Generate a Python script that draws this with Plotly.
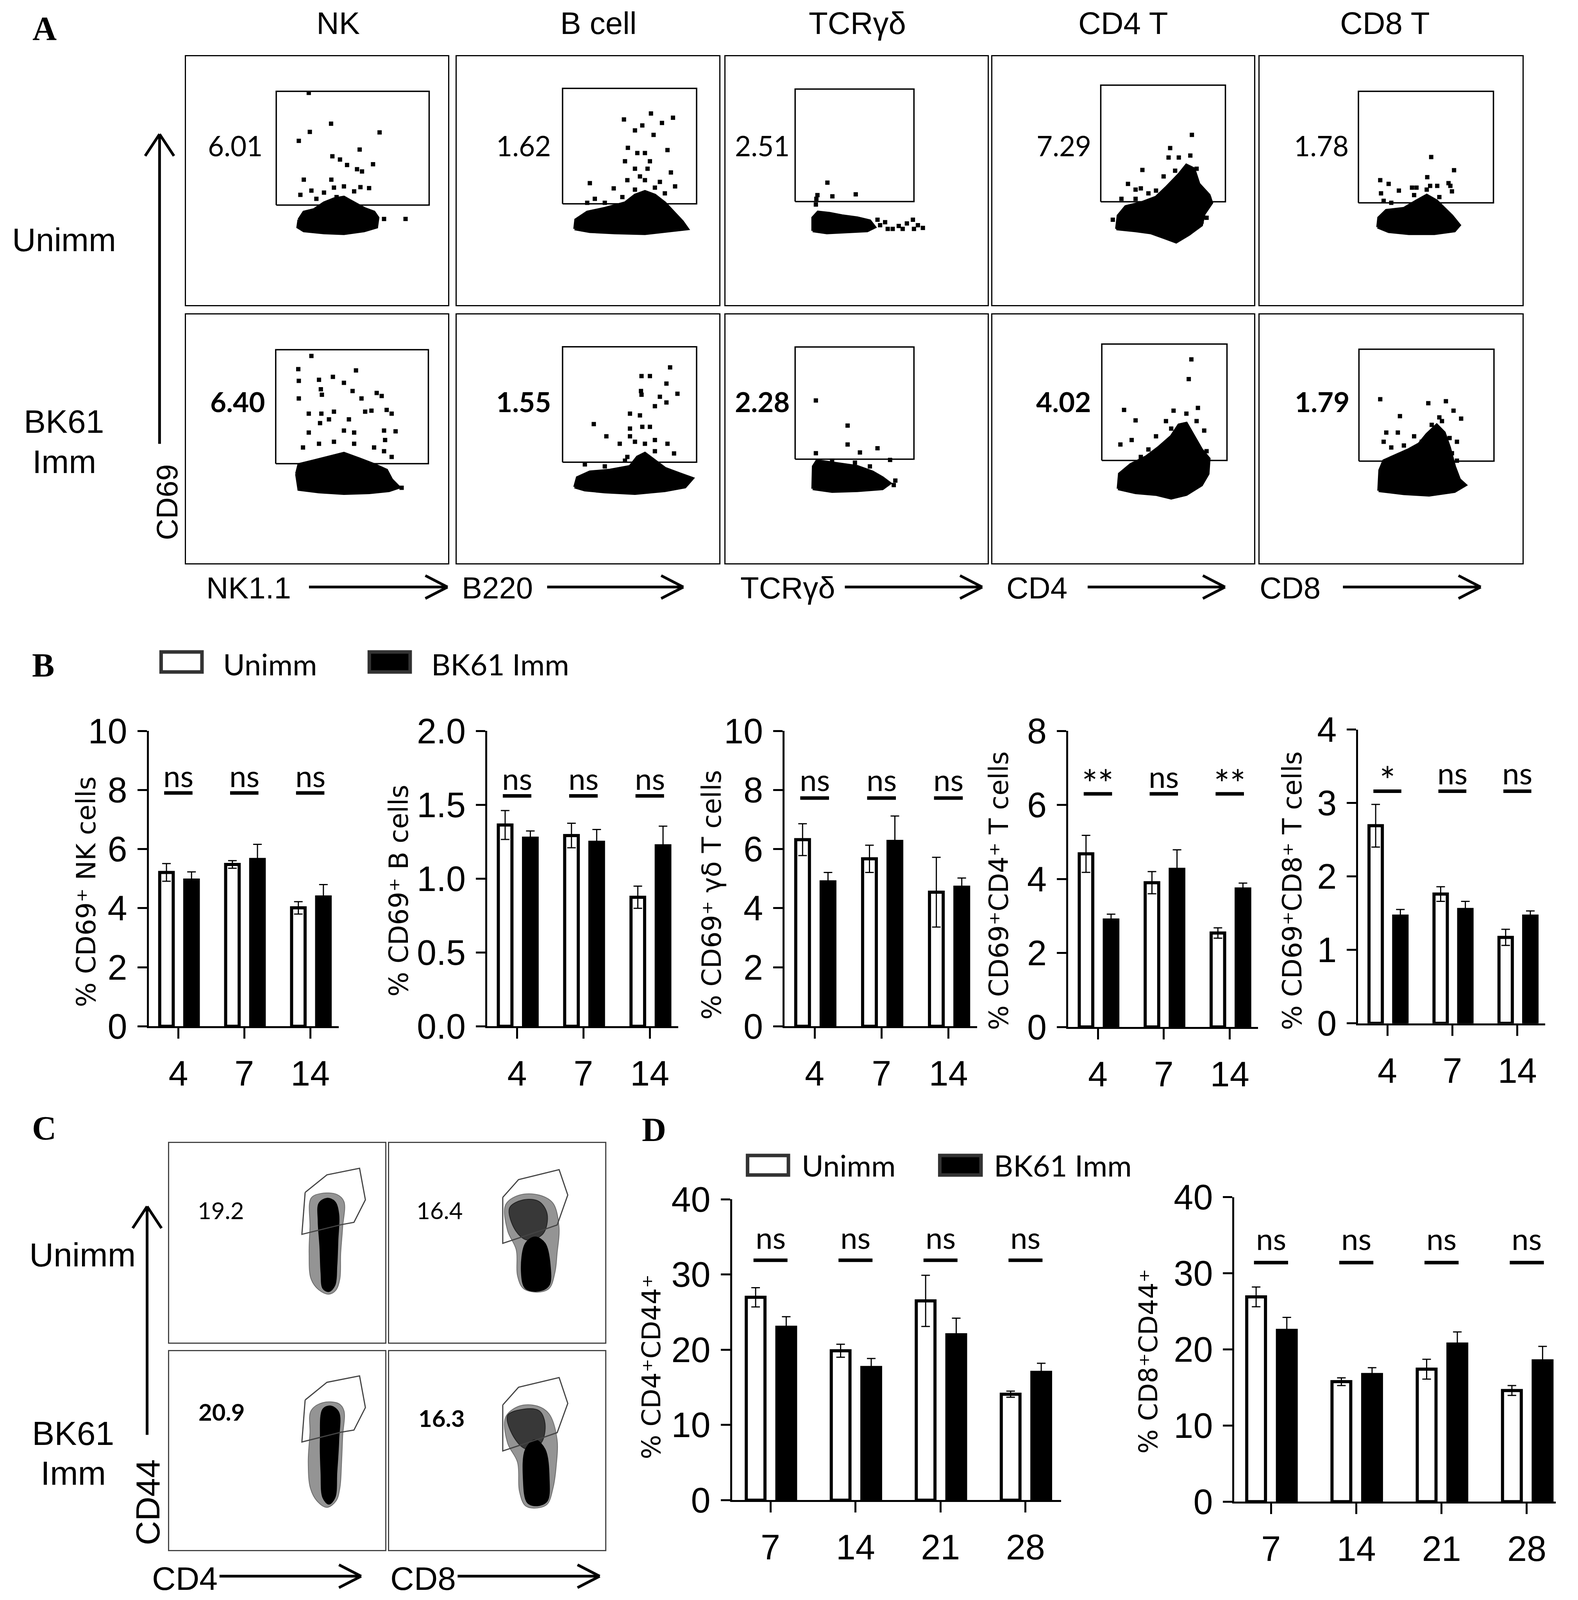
import plotly.graph_objects as go

W, H = 4039, 4318
def fx(x): return x / W
def fy(y): return 1 - y / H

# ================= DATA =================
# ---- Panel A: flow plots (arbitrary fluorescence units 0-1000) ----
a_col_titles = ["NK", "B cell", "TCRγδ", "CD4 T", "CD8 T"]
a_x_markers = ["NK1.1", "B220", "TCRγδ", "CD4", "CD8"]
a_top_pct = ["6.01", "1.62", "2.51", "7.29", "1.78"]
a_bot_pct = ["6.40", "1.55", "2.28", "4.02", "1.79"]
a_top_pct_x = [188, 254, 140, 273, 235]
a_bot_pct_x = [197, 254, 140, 271, 237]

nk_top_gate_x = [344, 927]; nk_top_gate_y = [402, 859]
nk_top_blob_x = [430, 449, 488, 526, 564, 602, 641, 679, 717, 732, 727, 679, 602, 526, 449, 426]
nk_top_blob_y = [343, 374, 384, 411, 427, 434, 411, 389, 374, 351, 313, 298, 287, 290, 298, 313]
nk_top_dots_x = [468, 553, 472, 430, 738, 662, 558, 587, 614, 652, 671, 713, 449, 554, 665, 698, 436, 478, 526, 564, 602, 641, 574, 497, 755, 837, 707]
nk_top_dots_y = [853, 729, 696, 660, 694, 625, 598, 585, 563, 546, 537, 566, 504, 504, 474, 470, 443, 460, 452, 472, 477, 457, 434, 427, 346, 346, 366]

nk_bot_gate_x = [342, 924]; nk_bot_gate_y = [401, 859]
nk_bot_blob_x = [421, 430, 488, 545, 602, 660, 717, 765, 784, 813, 774, 698, 602, 507, 430]
nk_bot_blob_y = [360, 398, 413, 428, 443, 421, 398, 375, 337, 306, 292, 284, 281, 287, 297]
nk_bot_dots_x = [478, 428, 648, 430, 507, 560, 602, 514, 518, 727, 746, 635, 669, 430, 468, 516, 564, 545, 621, 683, 707, 765, 784, 511, 602, 641, 755, 799, 468, 507, 564, 641, 717, 759, 446, 755, 784, 736, 822]
nk_bot_dots_y = [834, 781, 776, 734, 738, 750, 726, 700, 678, 685, 673, 693, 663, 663, 602, 602, 610, 579, 579, 610, 614, 617, 602, 564, 534, 526, 534, 531, 526, 481, 489, 481, 466, 496, 466, 451, 428, 368, 304]

b_top_gate_x = [403, 914]; b_top_gate_y = [407, 871]
b_top_blob_x = [449, 453, 497, 564, 641, 679, 717, 755, 793, 832, 860, 880, 813, 717, 602, 507]
b_top_blob_y = [306, 343, 374, 389, 411, 442, 457, 442, 411, 366, 336, 306, 298, 287, 290, 295]
b_top_dots_x = [740, 637, 782, 824, 707, 679, 750, 652, 688, 717, 803, 641, 736, 727, 679, 816, 698, 650, 717, 774, 832, 598, 507, 755, 679, 631, 526, 793, 497, 564]
b_top_dots_y = [770, 746, 732, 753, 722, 702, 684, 632, 611, 611, 623, 578, 578, 548, 548, 533, 517, 502, 502, 495, 477, 469, 490, 472, 464, 434, 427, 449, 411, 411]

b_bot_gate_x = [403, 914]; b_bot_gate_y = [407, 871]
b_bot_blob_x = [449, 459, 507, 583, 660, 688, 717, 755, 793, 851, 899, 870, 793, 679, 564, 488]
b_bot_blob_y = [307, 345, 368, 375, 390, 428, 443, 413, 383, 360, 342, 307, 292, 281, 287, 295]
b_bot_dots_x = [813, 704, 736, 799, 841, 702, 704, 774, 799, 755, 660, 698, 522, 660, 707, 736, 660, 570, 755, 679, 717, 803, 621, 755, 828, 650, 488, 564, 641]
b_bot_dots_y = [788, 753, 753, 723, 682, 693, 678, 670, 647, 632, 602, 595, 560, 542, 549, 549, 511, 511, 496, 489, 481, 481, 481, 451, 442, 428, 398, 390, 413]

gd_top_gate_x = [266, 719]; gd_top_gate_y = [416, 868]
gd_top_blob_x = [333, 333, 353, 397, 445, 503, 551, 570, 541, 464, 387]
gd_top_blob_y = [298, 351, 374, 369, 359, 351, 339, 313, 298, 295, 290]
gd_top_dots_x = [389, 408, 497, 351, 347, 345, 590, 609, 638, 661, 692, 715, 734, 753, 719, 676, 619, 580]
gd_top_dots_y = [492, 437, 445, 442, 427, 404, 321, 333, 306, 318, 328, 343, 321, 310, 306, 306, 306, 343]

gd_bot_gate_x = [266, 719]; gd_bot_gate_y = [419, 870]
gd_bot_blob_x = [333, 335, 349, 397, 445, 503, 561, 599, 628, 599, 503, 407]
gd_bot_blob_y = [300, 390, 413, 405, 398, 390, 368, 345, 322, 300, 292, 289]
gd_bot_dots_x = [345, 466, 466, 513, 580, 628, 345, 407, 494, 551, 648, 642, 426, 503]
gd_bot_dots_y = [655, 554, 478, 446, 463, 416, 443, 413, 405, 390, 333, 315, 375, 360]

cd4_top_gate_x = [414, 890]; cd4_top_gate_y = [415, 884]
cd4_top_blob_x = [474, 480, 509, 567, 625, 663, 712, 741, 770, 789, 828, 838, 809, 799, 750, 702, 663, 605, 547]
cd4_top_blob_y = [306, 359, 396, 411, 434, 472, 525, 563, 548, 487, 442, 411, 366, 321, 283, 253, 268, 290, 298]
cd4_top_dots_x = [762, 679, 673, 712, 756, 573, 654, 698, 741, 780, 518, 547, 567, 625, 493, 547, 596, 528, 828, 818, 799, 460, 480]
cd4_top_dots_y = [684, 631, 593, 593, 601, 543, 517, 540, 510, 548, 487, 464, 469, 460, 427, 427, 449, 396, 427, 351, 336, 343, 313]

cd4_bot_gate_x = [418, 896]; cd4_bot_gate_y = [414, 882]
cd4_bot_blob_x = [480, 485, 528, 586, 634, 683, 712, 741, 770, 799, 828, 824, 799, 741, 683, 625, 547]
cd4_bot_blob_y = [300, 360, 398, 428, 466, 511, 557, 564, 511, 458, 421, 360, 315, 277, 262, 277, 284]
cd4_bot_dots_x = [760, 750, 503, 547, 532, 489, 692, 741, 785, 663, 780, 809, 683, 625, 567, 596, 818, 780]
cd4_bot_dots_y = [820, 741, 617, 575, 496, 478, 614, 602, 625, 572, 572, 534, 542, 511, 428, 458, 451, 474]

cd8_top_gate_x = [376, 890]; cd8_top_gate_y = [411, 859]
cd8_top_blob_x = [449, 453, 482, 549, 597, 636, 674, 703, 732, 761, 742, 665, 568, 491]
cd8_top_blob_y = [313, 351, 381, 389, 419, 442, 419, 389, 359, 321, 298, 287, 287, 295]
cd8_top_dots_x = [653, 740, 580, 649, 676, 726, 638, 459, 491, 530, 597, 636, 588, 719, 732, 462, 501, 684, 472]
cd8_top_dots_y = [595, 542, 472, 479, 479, 479, 514, 502, 487, 460, 472, 464, 442, 490, 457, 449, 411, 434, 419]

cd8_bot_gate_x = [378, 892]; cd8_bot_gate_y = [411, 861]
cd8_bot_blob_x = [453, 457, 472, 520, 568, 607, 636, 674, 703, 723, 742, 761, 784, 742, 645, 549]
cd8_bot_blob_y = [292, 375, 413, 436, 458, 481, 519, 557, 526, 466, 390, 337, 315, 289, 274, 280]
cd8_bot_dots_x = [459, 534, 642, 709, 738, 767, 684, 655, 694, 482, 526, 588, 617, 751, 723, 472, 501, 549, 684, 732, 751, 597]
cd8_bot_dots_y = [660, 592, 644, 652, 614, 582, 587, 557, 572, 526, 526, 511, 489, 489, 504, 489, 466, 474, 466, 443, 413, 436]

# ---- Panel B: bar charts ----
b_days = ["4", "7", "14"]
nk_unimm = [5.21, 5.48, 4.01]; nk_unimm_err = [0.30, 0.13, 0.21]
nk_imm = [4.95, 5.65, 4.38];   nk_imm_err = [0.28, 0.51, 0.42]
bc_unimm = [1.363, 1.292, 0.874]; bc_unimm_err = [0.098, 0.083, 0.075]
bc_imm = [1.274, 1.246, 1.222];   bc_imm_err = [0.049, 0.087, 0.133]
gdt_unimm = [6.32, 5.67, 4.54]; gdt_unimm_err = [0.54, 0.46, 1.18]
gdt_imm = [4.89, 6.26, 4.71];   gdt_imm_err = [0.32, 0.86, 0.31]
cd4_unimm = [4.68, 3.90, 2.54]; cd4_unimm_err = [0.50, 0.30, 0.14]
cd4_imm = [2.89, 4.26, 3.73];   cd4_imm_err = [0.16, 0.53, 0.16]
cd8_unimm = [2.69, 1.76, 1.17]; cd8_unimm_err = [0.29, 0.10, 0.11]
cd8_imm = [1.46, 1.55, 1.46];   cd8_imm_err = [0.09, 0.11, 0.07]
b_sig = [["ns", "ns", "ns"], ["ns", "ns", "ns"], ["ns", "ns", "ns"], ["**", "ns", "**"], ["*", "ns", "ns"]]
b_sig_line = [7.9, 1.56, 7.73, 6.3, 3.16]
b_sig_text = [8.5, 1.68, 8.37, 6.78, 3.41]
b_ymax = [10, 2.0, 10, 8, 4]
b_dtick = [2, 0.5, 2, 2, 1]
b_titles = ["% CD69⁺ NK cells", "% CD69⁺ B cells", "% CD69⁺ γδ T cells",
            "% CD69⁺CD4⁺ T cells", "% CD69⁺CD8⁺ T cells"]

# ---- Panel C: flow density plots ----
c_pct = [["19.2", "16.4"], ["20.9", "16.3"]]
c_pct_x = [[239, 235], [243, 244]]
c_pct_y = [[663, 663], [695, 663]]
c4_top_gate_x = [629, 730, 881, 908, 855, 794, 614, 629]
c4_top_gate_y = [752, 840, 873, 715, 602, 590, 542, 752]
c8_top_gate_x = [526, 599, 787, 827, 778, 704, 526, 526]
c8_top_gate_y = [727, 816, 866, 739, 589, 561, 497, 727]
c4_bot_gate_x = [629, 730, 881, 908, 855, 794, 614, 629]
c4_bot_gate_y = [754, 843, 875, 716, 603, 592, 543, 754]
c8_bot_gate_x = [526, 599, 787, 827, 778, 704, 526, 526]
c8_bot_gate_y = [729, 818, 867, 737, 590, 562, 498, 729]

c4_top_halo_x = [656, 702, 776, 809, 803, 794, 790, 772, 739, 693, 656, 647, 651]
c4_top_halo_y = [723, 747, 742, 706, 577, 448, 319, 263, 242, 263, 319, 448, 577]
c4_top_core_x = [693, 730, 767, 785, 781, 776, 767, 739, 711, 702, 697, 689]
c4_top_core_y = [698, 723, 706, 642, 513, 384, 287, 255, 271, 352, 481, 610]
c8_top_halo_x = [539, 603, 695, 759, 787, 778, 768, 741, 686, 621, 594, 588, 548]
c8_top_halo_y = [690, 739, 739, 698, 577, 448, 352, 271, 252, 271, 335, 465, 561]
c8_top_mid_x = [557, 621, 695, 732, 713, 640, 585]
c8_top_mid_y = [674, 715, 706, 642, 545, 513, 561]
c8_top_core_x = [631, 676, 722, 746, 741, 695, 631, 612]
c8_top_core_y = [497, 529, 497, 384, 287, 258, 271, 352]
c4_bot_halo_x = [656, 711, 785, 809, 803, 798, 790, 772, 730, 684, 653, 643, 651]
c4_bot_halo_y = [700, 741, 736, 700, 571, 441, 311, 246, 214, 246, 311, 441, 587]
c4_bot_core_x = [711, 748, 785, 785, 776, 767, 739, 711, 702, 699]
c4_bot_core_y = [708, 724, 692, 554, 392, 263, 230, 263, 392, 554]
c8_bot_halo_x = [539, 603, 686, 741, 778, 774, 759, 732, 686, 631, 603, 594, 548]
c8_bot_halo_y = [668, 724, 724, 684, 554, 425, 311, 230, 211, 222, 295, 441, 538]
c8_bot_mid_x = [548, 621, 695, 722, 704, 640, 585]
c8_bot_mid_y = [676, 708, 700, 635, 538, 506, 554]
c8_bot_core_x = [631, 676, 722, 741, 732, 686, 640, 621]
c8_bot_core_y = [506, 554, 506, 360, 246, 222, 238, 360]

# ---- Panel D: bar charts ----
d_days = ["7", "14", "21", "28"]
cd4cd44_unimm = [26.98, 19.87, 26.5, 14.09]; cd4cd44_unimm_err = [1.28, 0.86, 3.4, 0.41]
cd4cd44_imm = [23.0, 17.64, 22.0, 17.0];     cd4cd44_imm_err = [1.4, 1.2, 2.2, 1.2]
cd8cd44_unimm = [26.9, 15.76, 17.4, 14.6];   cd8cd44_unimm_err = [1.3, 0.51, 1.3, 0.65]
cd8cd44_imm = [22.5, 16.7, 20.7, 18.5];      cd8cd44_imm_err = [1.7, 0.9, 1.6, 1.9]
d_sig = [["ns"] * 4, ["ns"] * 4]
d_sig_line = [31.9, 31.4]
d_sig_text = [35.0, 34.6]
d_titles = ["% CD4⁺CD44⁺", "% CD8⁺CD44⁺"]

# ================= FIGURE =================
fig = go.Figure()
layout = {}
annotations = []
shapes = []
count = [0]

SANS = "Liberation Sans, Arial, sans-serif"
CAL = "Lato, Liberation Sans, sans-serif"
VERD = "DejaVu Sans, Verdana, sans-serif"
SERIF = "Liberation Serif, Times New Roman, serif"
TICK = "Liberation Sans, Arial, sans-serif"

def new_axes(x0, x1, ytop, ybot, xr, yr, xkw=None, ykw=None):
    count[0] += 1
    i = count[0]
    s = '' if i == 1 else str(i)
    xa = dict(domain=[fx(x0), fx(x1)], range=xr, anchor='y' + s, showgrid=False, zeroline=False, automargin=False)
    ya = dict(domain=[fy(ybot), fy(ytop)], range=yr, anchor='x' + s, showgrid=False, zeroline=False, automargin=False)
    xa.update(xkw or {}); ya.update(ykw or {})
    layout['xaxis' + s] = xa
    layout['yaxis' + s] = ya
    return 'x' + s, 'y' + s

flow_ax = dict(showline=True, mirror=True, linecolor='black', linewidth=3,
               showticklabels=False, ticks='')

def text(x, y, t, size, family=SANS, xanchor='center', yanchor='middle', angle=0, xref='paper', yref='paper',
         color='black', weight='normal'):
    if xref == 'paper':
        x, y = fx(x), fy(y)
    annotations.append(dict(x=x, y=y, xref=xref, yref=yref, text=t, showarrow=False,
                            xanchor=xanchor, yanchor=yanchor, textangle=angle,
                            font=dict(family=family, size=size, color=color, weight=weight)))

def pline(x0, y0, x1, y1, w=7, color='black'):
    shapes.append(dict(type='line', xref='paper', yref='paper', x0=fx(x0), y0=fy(y0),
                       x1=fx(x1), y1=fy(y1), line=dict(color=color, width=w)))

def arrow_right(x0, x1, y, w=7, dx=55, dy=31):
    pline(x0, y, x1, y, w)
    pline(x1 - dx, y - dy, x1 + 2, y, w)
    pline(x1 - dx, y + dy, x1 + 2, y, w)

def arrow_up(x, y0, y1, w=7, dx=37, dy=57):
    pline(x, y0, x, y1, w)
    pline(x - dx, y1 + dy, x, y1 - 2, w)
    pline(x + dx, y1 + dy, x, y1 - 2, w)

# ---------- Panel A ----------
a_cols = [(470, 1144), (1166, 1840), (1856, 2530), (2542, 3215), (3229, 3904)]
a_rows = [(144, 818), (844, 1518)]
a_title_x = [861, 1530, 2195, 2878, 3551]
a_panels = [
    [(nk_top_gate_x, nk_top_gate_y, nk_top_blob_x, nk_top_blob_y, nk_top_dots_x, nk_top_dots_y),
     (b_top_gate_x, b_top_gate_y, b_top_blob_x, b_top_blob_y, b_top_dots_x, b_top_dots_y),
     (gd_top_gate_x, gd_top_gate_y, gd_top_blob_x, gd_top_blob_y, gd_top_dots_x, gd_top_dots_y),
     (cd4_top_gate_x, cd4_top_gate_y, cd4_top_blob_x, cd4_top_blob_y, cd4_top_dots_x, cd4_top_dots_y),
     (cd8_top_gate_x, cd8_top_gate_y, cd8_top_blob_x, cd8_top_blob_y, cd8_top_dots_x, cd8_top_dots_y)],
    [(nk_bot_gate_x, nk_bot_gate_y, nk_bot_blob_x, nk_bot_blob_y, nk_bot_dots_x, nk_bot_dots_y),
     (b_bot_gate_x, b_bot_gate_y, b_bot_blob_x, b_bot_blob_y, b_bot_dots_x, b_bot_dots_y),
     (gd_bot_gate_x, gd_bot_gate_y, gd_bot_blob_x, gd_bot_blob_y, gd_bot_dots_x, gd_bot_dots_y),
     (cd4_bot_gate_x, cd4_bot_gate_y, cd4_bot_blob_x, cd4_bot_blob_y, cd4_bot_dots_x, cd4_bot_dots_y),
     (cd8_bot_gate_x, cd8_bot_gate_y, cd8_bot_blob_x, cd8_bot_blob_y, cd8_bot_dots_x, cd8_bot_dots_y)],
]
for r, (yt, yb) in enumerate(a_rows):
    for c, (xl, xr_) in enumerate(a_cols):
        xa, ya = new_axes(xl, xr_, yt, yb, [0, 1000], [0, 1000], flow_ax, flow_ax)
        gx, gy, bx, by, dxs, dys = a_panels[r][c]
        fig.add_trace(go.Scatter(x=list(bx) + [bx[0]], y=list(by) + [by[0]], mode='lines', fill='toself',
                                 fillcolor='black', line=dict(color='black', width=7),
                                 xaxis=xa, yaxis=ya, hoverinfo='skip'))
        fig.add_trace(go.Scatter(x=dxs, y=dys, mode='markers',
                                 marker=dict(symbol='square', size=11, color='black', line=dict(width=0)),
                                 xaxis=xa, yaxis=ya, hoverinfo='skip'))
        fig.add_trace(go.Scatter(x=[gx[0], gx[1], gx[1], gx[0], gx[0]], y=[gy[0], gy[0], gy[1], gy[1], gy[0]],
                                 mode='lines', line=dict(color='black', width=3.5),
                                 xaxis=xa, yaxis=ya, hoverinfo='skip'))
        if r == 0:
            text(a_top_pct_x[c], 642, a_top_pct[c], 71, CAL, xref=xa, yref=ya)
        else:
            text(a_bot_pct_x[c], 652, a_bot_pct[c], 71, CAL, xref=xa, yref=ya, weight='bold')

for c in range(5):
    text(a_title_x[c], 54, a_col_titles[c], 80)

text(106, 69, 'A', 86, SERIF, weight='bold')
text(157, 641, 'Unimm', 84)
text(157, 1133, 'BK61', 84)
text(157, 1243, 'Imm', 84)
arrow_up(402, 1194, 357)
text(421, 1352, 'CD69', 76, angle=-90)
a_xlab_x = [631, 1270, 2016, 2657, 3307]
a_arrow = [(786, 1140), (1398, 1746), (2163, 2514), (2787, 3138), (3443, 3795)]
for c in range(5):
    text(a_xlab_x[c], 1584, a_x_markers[c], 78)
    arrow_right(a_arrow[c][0], a_arrow[c][1], 1582)

# ---------- Bar chart helpers ----------
def bar_axes(x0, x1, ytop, ybot, xr, ymax, dtick, ticktext):
    n = len(ticktext)
    xkw = dict(showline=True, linecolor='black', linewidth=5, ticks='outside', ticklen=27, tickwidth=5,
               tickcolor='black', tickvals=list(range(n)), ticktext=ticktext,
               tickfont=dict(family=TICK, size=90, color='black'), ticklabelstandoff=12)
    ykw = dict(showline=True, linecolor='black', linewidth=5, ticks='outside', ticklen=24, tickwidth=5,
               tickcolor='black', dtick=dtick, tick0=0,
               tickfont=dict(family=TICK, size=90, color='black'), ticklabelstandoff=8)
    if dtick < 1:
        ykw['tickformat'] = '.1f'
    return new_axes(x0, x1, ytop, ybot, xr, [0, ymax], xkw, ykw)

def add_bars(xa, ya, unimm, unimm_err, imm, imm_err, off_u, off_i, width):
    n = len(unimm)
    fig.add_trace(go.Bar(x=[i + off_u for i in range(n)], y=unimm, width=width,
                         marker=dict(color='white', line=dict(color='black', width=8)),
                         error_y=dict(type='data', array=unimm_err, visible=True, color='black', thickness=3, width=11),
                         xaxis=xa, yaxis=ya, hoverinfo='skip'))
    fig.add_trace(go.Bar(x=[i + off_i for i in range(n)], y=imm, width=width,
                         marker=dict(color='black', line=dict(color='black', width=8)),
                         error_y=dict(type='data', array=imm_err, visible=True, color='black', thickness=3, width=11),
                         xaxis=xa, yaxis=ya, hoverinfo='skip'))

def add_sig(xa, ya, labels, yline, ytext, half):
    for i, lab in enumerate(labels):
        shapes.append(dict(type='line', xref=xa, yref=ya, x0=i - half, x1=i + half, y0=yline, y1=yline,
                           line=dict(color='black', width=9)))
        if lab == 'ns':
            annotations.append(dict(x=i, y=ytext, xref=xa, yref=ya, text=lab, showarrow=False,
                                    yanchor='middle', font=dict(family=CAL, size=78, color='black')))
        else:
            annotations.append(dict(x=i, y=ytext, xref=xa, yref=ya, text=lab, showarrow=False,
                                    yanchor='middle', yshift=-18, font=dict(family=CAL, size=96, color='black')))

# ---------- Panel B ----------
text(103, 1794, 'B', 86, SERIF, weight='bold')
shapes.append(dict(type='rect', xref='paper', yref='paper', x0=fx(406), x1=fx(511), y0=fy(1812), y1=fy(1758),
                   fillcolor='white', line=dict(color='#333333', width=9)))
shapes.append(dict(type='rect', xref='paper', yref='paper', x0=fx(941), x1=fx(1046), y0=fy(1812), y1=fy(1758),
                   fillcolor='black', line=dict(color='#333333', width=9)))
text(563, 1790, 'Unimm', 76, CAL, xanchor='left')
text(1098, 1790, 'BK61 Imm', 76, CAL, xanchor='left')

b_dom = [(374, 862, 1972, 2772), (1244, 1735, 1972, 2772), (2008, 2503, 1972, 2772),
         (2737, 3225, 1972, 2774), (3482, 3963, 1968, 2764)]
b_series = [(nk_unimm, nk_unimm_err, nk_imm, nk_imm_err), (bc_unimm, bc_unimm_err, bc_imm, bc_imm_err),
            (gdt_unimm, gdt_unimm_err, gdt_imm, gdt_imm_err), (cd4_unimm, cd4_unimm_err, cd4_imm, cd4_imm_err),
            (cd8_unimm, cd8_unimm_err, cd8_imm, cd8_imm_err)]
b_title_pos = [(214, 2408), (1018, 2404), (1821, 2416), (2560, 2405), (3314, 2405)]
for k in range(5):
    x0, x1, yt, yb = b_dom[k]
    xa, ya = bar_axes(x0, x1, yt, yb, [-0.45, 2.43], b_ymax[k], b_dtick[k], b_days)
    u, ue, im, ie = b_series[k]
    add_bars(xa, ya, u, ue, im, ie, -0.18, 0.2, 0.205)
    add_sig(xa, ya, b_sig[k], b_sig_line[k], b_sig_text[k], 0.215)
    text(b_title_pos[k][0], b_title_pos[k][1], b_titles[k], 67, VERD, angle=-90)

# ---------- Panel C ----------
text(105, 3048, 'C', 86, SERIF, weight='bold')
c_cols = [(427, 982), (992, 1547)]
c_rows = [(3088, 3629), (3652, 4191)]
HALO, MID = 'rgba(0,0,0,0.42)', 'rgba(0,0,0,0.62)'
c_data = [
    [(c4_top_gate_x, c4_top_gate_y, [(c4_top_halo_x, c4_top_halo_y, HALO), (c4_top_core_x, c4_top_core_y, 'black')]),
     (c8_top_gate_x, c8_top_gate_y, [(c8_top_halo_x, c8_top_halo_y, HALO), (c8_top_mid_x, c8_top_mid_y, MID),
                                      (c8_top_core_x, c8_top_core_y, 'black')])],
    [(c4_bot_gate_x, c4_bot_gate_y, [(c4_bot_halo_x, c4_bot_halo_y, HALO), (c4_bot_core_x, c4_bot_core_y, 'black')]),
     (c8_bot_gate_x, c8_bot_gate_y, [(c8_bot_halo_x, c8_bot_halo_y, HALO), (c8_bot_mid_x, c8_bot_mid_y, MID),
                                      (c8_bot_core_x, c8_bot_core_y, 'black')])],
]
c_box = dict(flow_ax); c_box['linecolor'] = '#444444'
for r, (yt, yb) in enumerate(c_rows):
    for c, (xl, xr_) in enumerate(c_cols):
        xa, ya = new_axes(xl, xr_, yt, yb, [0, 1000], [0, 1000], c_box, c_box)
        gx, gy, layers = c_data[r][c]
        for lx, ly, col in layers:
            fig.add_trace(go.Scatter(x=list(lx) + [lx[0]], y=list(ly) + [ly[0]], mode='lines', fill='toself',
                                     fillcolor=col, line=dict(color=col, width=2, shape='spline'),
                                     xaxis=xa, yaxis=ya, hoverinfo='skip'))
        fig.add_trace(go.Scatter(x=gx, y=gy, mode='lines', line=dict(color='#444444', width=3),
                                 xaxis=xa, yaxis=ya, hoverinfo='skip'))
        text(c_pct_x[r][c], c_pct_y[r][c], c_pct[r][c], 60, CAL, xref=xa, yref=ya,
             weight='bold' if r == 1 else 'normal')

text(204, 3391, 'Unimm', 86)
text(180, 3875, 'BK61', 86)
text(180, 3982, 'Imm', 86)
arrow_up(370, 3879, 3262)
text(372, 4062, 'CD44', 86, angle=-90)
text(467, 4268, 'CD4', 84)
arrow_right(556, 918, 4262)
text(1079, 4268, 'CD8', 84)
arrow_right(1168, 1531, 4262)

# ---------- Panel D ----------
text(1673, 3052, 'D', 86, SERIF, weight='bold')
shapes.append(dict(type='rect', xref='paper', yref='paper', x0=fx(1913), x1=fx(2018), y0=fy(3175), y1=fy(3122),
                   fillcolor='white', line=dict(color='#333333', width=9)))
shapes.append(dict(type='rect', xref='paper', yref='paper', x0=fx(2407), x1=fx(2513), y0=fy(3175), y1=fy(3122),
                   fillcolor='black', line=dict(color='#333333', width=9)))
text(2050, 3148, 'Unimm', 76, CAL, xanchor='left')
text(2544, 3148, 'BK61 Imm', 76, CAL, xanchor='left')

d_dom = [(1873, 2719, 3241, 4056, [-0.453, 3.42]), (3164, 3990, 3235, 4060, [-0.43, 3.34])]
d_series = [(cd4cd44_unimm, cd4cd44_unimm_err, cd4cd44_imm, cd4cd44_imm_err),
            (cd8cd44_unimm, cd8cd44_unimm_err, cd8cd44_imm, cd8cd44_imm_err)]
d_title_pos = [(1666, 3695), (2943, 3680)]
for k in range(2):
    x0, x1, yt, yb, xr = d_dom[k]
    xa, ya = bar_axes(x0, x1, yt, yb, xr, 40, 10, d_days)
    u, ue, im, ie = d_series[k]
    add_bars(xa, ya, u, ue, im, ie, -0.175, 0.185, 0.22)
    add_sig(xa, ya, d_sig[k], d_sig_line[k], d_sig_text[k], 0.2)
    text(d_title_pos[k][0], d_title_pos[k][1], d_titles[k], 66, VERD, angle=-90)

# Size follows the browser viewport (no fixed width/height), so nothing is cut off.
layout.update(dict(template='none', autosize=True, margin=dict(l=0, r=0, t=0, b=0, autoexpand=False),
                   showlegend=False, paper_bgcolor='white', plot_bgcolor='rgba(0,0,0,0)', barmode='overlay',
                   annotations=annotations, shapes=shapes))
fig.update_layout(**layout)
fig.write_html("out.html", default_width='100%', default_height='calc(100vh - 16px)',
               config={'displayModeBar': False, 'responsive': True})
